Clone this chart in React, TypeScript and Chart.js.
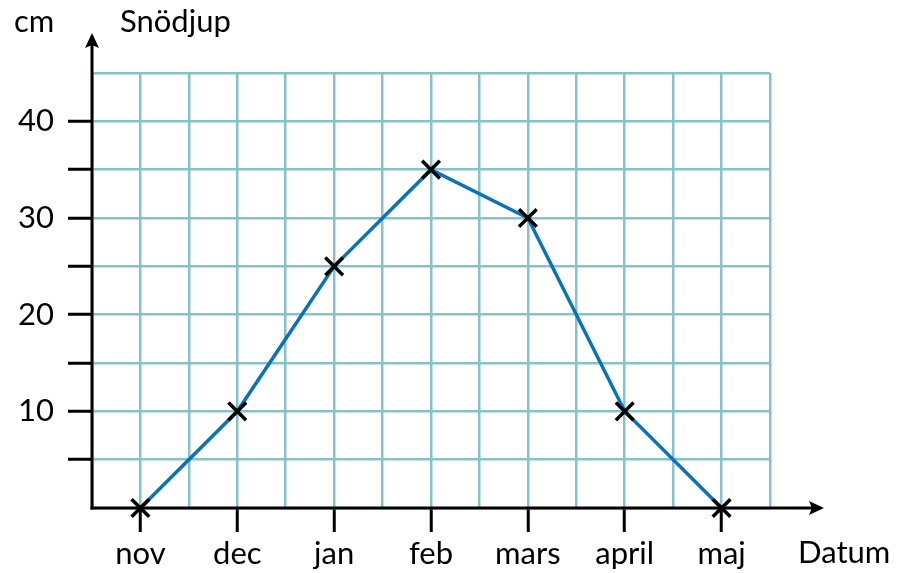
import React, { useEffect, useRef } from "react";
import { Chart, registerables } from "chart.js";

Chart.register(...registerables);

const months = ["nov", "dec", "jan", "feb", "mars", "april", "maj"];
const snowDepth = [0, 10, 25, 35, 30, 10, 0];
const yLabelValues = [10, 20, 30, 40];
const yUnit = "cm";
const yTitle = "Snödjup";
const xTitle = "Datum";

const FONT = "Lato";
const FONT_SIZE = 31;
const GRID = "#86c2cc";

const axesPlugin = {
  id: "axesArrows",
  beforeDatasetsDraw(chart: any) {
    const { ctx, chartArea, scales } = chart;
    const x0 = chartArea.left;
    const y0 = scales.y.getPixelForValue(0);
    ctx.save();
    ctx.strokeStyle = "#000";
    ctx.fillStyle = "#000";
    ctx.lineWidth = 3;
    const yTip = chartArea.top - 40;
    ctx.beginPath();
    ctx.moveTo(x0, y0 + 1.5);
    ctx.lineTo(x0, yTip + 10);
    ctx.stroke();
    ctx.beginPath();
    ctx.moveTo(x0, yTip);
    ctx.lineTo(x0 - 7, yTip + 15);
    ctx.lineTo(x0, yTip + 12);
    ctx.lineTo(x0 + 7, yTip + 15);
    ctx.closePath();
    ctx.fill();
    const xTip = chartArea.right + 54;
    ctx.beginPath();
    ctx.moveTo(x0 - 1.5, y0);
    ctx.lineTo(xTip - 10, y0);
    ctx.stroke();
    ctx.beginPath();
    ctx.moveTo(xTip, y0);
    ctx.lineTo(xTip - 15, y0 - 7);
    ctx.lineTo(xTip - 12, y0);
    ctx.lineTo(xTip - 15, y0 + 7);
    ctx.closePath();
    ctx.fill();
    ctx.restore();
  },
  afterDraw(chart: any) {
    const { ctx, chartArea } = chart;
    ctx.save();
    ctx.fillStyle = "#000";
    ctx.font = `${FONT_SIZE}px ${FONT}`;
    ctx.textBaseline = "alphabetic";
    ctx.textAlign = "left";
    ctx.fillText(yUnit, 14, 32);
    ctx.fillText(yTitle, 120, 32);
    ctx.fillText(xTitle, chartArea.right + 28, 563);
    ctx.restore();
  },
};

export default function App() {
  const ref = useRef<HTMLCanvasElement | null>(null);
  useEffect(() => {
    if (!ref.current) return;
    const chart = new Chart(ref.current, {
      type: "line",
      data: {
        datasets: [
          {
            data: months.map((_, i) => ({ x: i, y: snowDepth[i] })),
            borderColor: "#0a72b8",
            borderWidth: 3.5,
            pointStyle: "crossRot",
            pointRadius: 12.5,
            pointBorderWidth: 3.5,
            pointBorderColor: "#000",
            pointBackgroundColor: "#000",
            clip: false as any,
            tension: 0,
          },
        ],
      },
      options: {
        animation: false,
        responsive: false,
        maintainAspectRatio: false,
        layout: { padding: { top: 73, right: 137, left: 0, bottom: 0 } },
        plugins: { legend: { display: false }, tooltip: { enabled: false } },
        scales: {
          x: {
            type: "linear",
            min: -0.5,
            max: 6.5,
            afterFit: (s: any) => {
              s.height = 65;
            },
            border: { display: false },
            grid: {
              color: GRID,
              lineWidth: 2.5,
              tickLength: 24,
              tickWidth: 3,
              tickColor: (c: any) =>
                c.tick && Number.isInteger(c.tick.value) && c.tick.value >= 0 ? "#000" : "rgba(0,0,0,0)",
            },
            ticks: {
              stepSize: 0.5,
              autoSkip: false,
              maxRotation: 0,
              padding: 3,
              color: "#000",
              font: { family: FONT, size: FONT_SIZE },
              callback: (v: any) => (Number.isInteger(v) && v >= 0 ? months[v] : ""),
            },
          },
          y: {
            type: "linear",
            min: 0,
            max: 45,
            afterFit: (s: any) => {
              s.width = 92;
            },
            border: { display: false },
            grid: {
              color: GRID,
              lineWidth: 2.5,
              tickLength: 24,
              tickWidth: 3,
              tickColor: (c: any) =>
                c.tick && c.tick.value > 0 && c.tick.value < 45 ? "#000" : "rgba(0,0,0,0)",
            },
            ticks: {
              stepSize: 5,
              padding: 14,
              color: "#000",
              font: { family: FONT, size: FONT_SIZE },
              callback: (v: any) => (yLabelValues.includes(v) ? String(v) : ""),
            },
          },
        },
      },
      plugins: [axesPlugin],
    });
    return () => chart.destroy();
  }, []);
  return (
    <div style={{ position: "fixed", left: 0, top: 0, width: 907, height: 573, background: "#fff" }}>
      <canvas ref={ref} width={907} height={573} style={{ width: 907, height: 573 }} />
    </div>
  );
}
